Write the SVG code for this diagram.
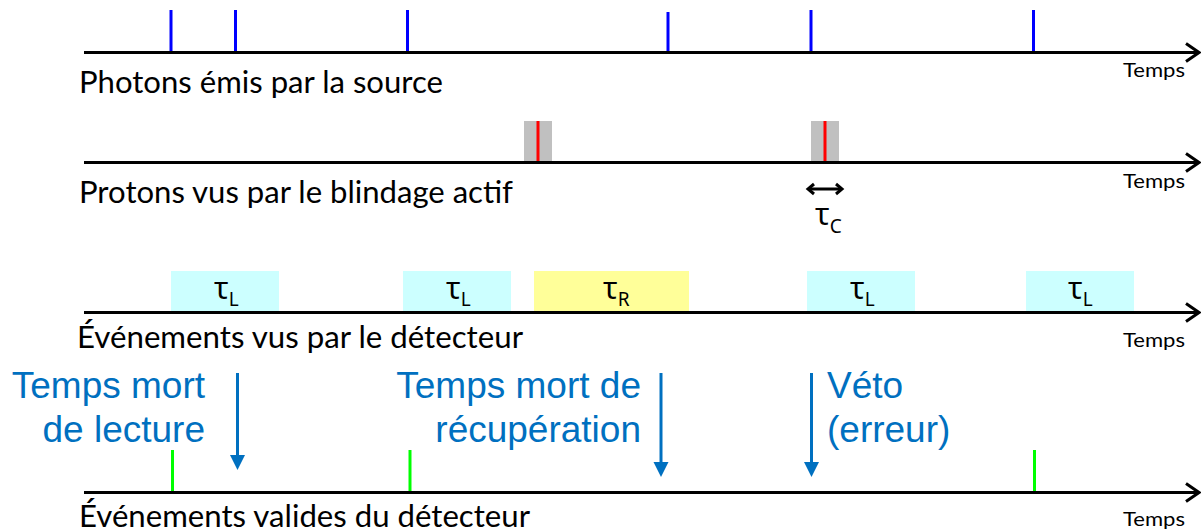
<svg xmlns="http://www.w3.org/2000/svg" width="1201" height="530" viewBox="0 0 1201 530">
<defs>
<style>
.axis{stroke:#000;stroke-width:3.2;fill:none}
.head{stroke:#000;stroke-width:3;fill:none;stroke-linejoin:miter}
.tickb{stroke:#0000FF;stroke-width:3}
.tickr{stroke:#FF0000;stroke-width:3}
.tickg{stroke:#00FF00;stroke-width:3}
.grey{fill:#C0C0C0}
.cyan{fill:#CCFFFF}
.yel{fill:#FFFF99}
.lbl{font-family:Lato,"Open Sans","Liberation Sans",sans-serif;font-size:30px;fill:#000}
.tps{font-family:Lato,"Open Sans","Liberation Sans",sans-serif;font-size:20px;fill:#000}
.tau{font-family:"Noto Sans","DejaVu Sans",sans-serif;font-size:30px;fill:#000}
.sub{font-size:19px}
.blue{font-family:"Liberation Sans",Arial,sans-serif;font-size:37px;fill:#0070C0}
.barrow{stroke:#0070C0;stroke-width:3}
.bhead{fill:#0070C0}
</style>
</defs>

<g id="row1">
<line class="tickb" x1="171" y1="10" x2="171" y2="52"/>
<line class="tickb" x1="235.5" y1="10" x2="235.5" y2="52"/>
<line class="tickb" x1="407.5" y1="10" x2="407.5" y2="52"/>
<line class="tickb" x1="668" y1="12" x2="668" y2="52"/>
<line class="tickb" x1="811" y1="10" x2="811" y2="52"/>
<line class="tickb" x1="1033.5" y1="10" x2="1033.5" y2="52"/>
<line class="axis" x1="84" y1="52.5" x2="1198" y2="52.5"/>
<polyline class="head" points="1186,43.5 1199,52.5 1186,61.5"/>
<text class="lbl" x="79" y="93" textLength="364" lengthAdjust="spacingAndGlyphs">Photons émis par la source</text>
<text class="tps" x="1123" y="77" textLength="62" lengthAdjust="spacingAndGlyphs">Temps</text>
</g>

<g id="row2">
<rect class="grey" x="524" y="121" width="28" height="41"/>
<rect class="grey" x="811" y="121" width="28" height="41"/>
<line class="tickr" x1="538" y1="121" x2="538" y2="161"/>
<line class="tickr" x1="825" y1="121" x2="825" y2="161"/>
<line class="axis" x1="84" y1="162.5" x2="1198" y2="162.5"/>
<polyline class="head" points="1186,153.5 1199,162.5 1186,171.5"/>
<text class="lbl" x="79" y="203" textLength="434" lengthAdjust="spacingAndGlyphs">Protons vus par le blindage actif</text>
<text class="tps" x="1123" y="188" textLength="62" lengthAdjust="spacingAndGlyphs">Temps</text>
</g>

<g id="tauC">
<line x1="809" y1="189" x2="841" y2="189" stroke="#000" stroke-width="3"/>
<polyline class="head" points="814,184 808,189 814,194"/>
<polyline class="head" points="836,184 842,189 836,194"/>
<text class="tau" x="815" y="225">τ<tspan class="sub" dy="8">C</tspan></text>
</g>

<g id="row3">
<rect class="cyan" x="171" y="271" width="108" height="41"/>
<rect class="cyan" x="403" y="271" width="108" height="41"/>
<rect class="yel" x="534" y="271" width="155" height="41"/>
<rect class="cyan" x="807" y="271" width="108" height="41"/>
<rect class="cyan" x="1026" y="271" width="108" height="41"/>
<text class="tau" x="214" y="299">τ<tspan class="sub" dy="7">L</tspan></text>
<text class="tau" x="446" y="299">τ<tspan class="sub" dy="7">L</tspan></text>
<text class="tau" x="603" y="299">τ<tspan class="sub" dy="7">R</tspan></text>
<text class="tau" x="850" y="299">τ<tspan class="sub" dy="7">L</tspan></text>
<text class="tau" x="1068" y="299">τ<tspan class="sub" dy="7">L</tspan></text>
<line class="axis" x1="84" y1="312.5" x2="1198" y2="312.5"/>
<polyline class="head" points="1186,303.5 1199,312.5 1186,321.5"/>
<text class="lbl" x="77" y="348" textLength="446" lengthAdjust="spacingAndGlyphs">Événements vus par le détecteur</text>
<text class="tps" x="1123" y="347" textLength="62" lengthAdjust="spacingAndGlyphs">Temps</text>
</g>

<g id="label-lecture">
<text class="blue" x="205" y="398" text-anchor="end">Temps mort</text>
<text class="blue" x="205" y="442" text-anchor="end">de lecture</text>
</g>
<g id="label-recuperation">
<text class="blue" x="641" y="398" text-anchor="end">Temps mort de</text>
<text class="blue" x="641" y="442" text-anchor="end">récupération</text>
</g>
<g id="label-veto">
<text class="blue" x="827" y="398">Véto</text>
<text class="blue" x="827" y="442">(erreur)</text>
</g>

<g id="connectors">
<line class="barrow" x1="237.5" y1="373" x2="237.5" y2="456"/>
<polygon class="bhead" points="230,455 245,455 237.5,470"/>
<line class="barrow" x1="661" y1="373" x2="661" y2="463"/>
<polygon class="bhead" points="653.5,462 668.5,462 661,477"/>
<line class="barrow" x1="811.5" y1="373" x2="811.5" y2="463"/>
<polygon class="bhead" points="804,462 819,462 811.5,477"/>
</g>

<g id="row4">
<line class="tickg" x1="172.5" y1="450" x2="172.5" y2="492"/>
<line class="tickg" x1="410" y1="450" x2="410" y2="492"/>
<line class="tickg" x1="1034.5" y1="450" x2="1034.5" y2="492"/>
<line class="axis" x1="84" y1="492.5" x2="1198" y2="492.5"/>
<polyline class="head" points="1186,483.5 1199,492.5 1186,501.5"/>
<text class="lbl" x="79" y="527" textLength="451" lengthAdjust="spacingAndGlyphs">Événements valides du détecteur</text>
<text class="tps" x="1123" y="526" textLength="62" lengthAdjust="spacingAndGlyphs">Temps</text>
</g>
</svg>
